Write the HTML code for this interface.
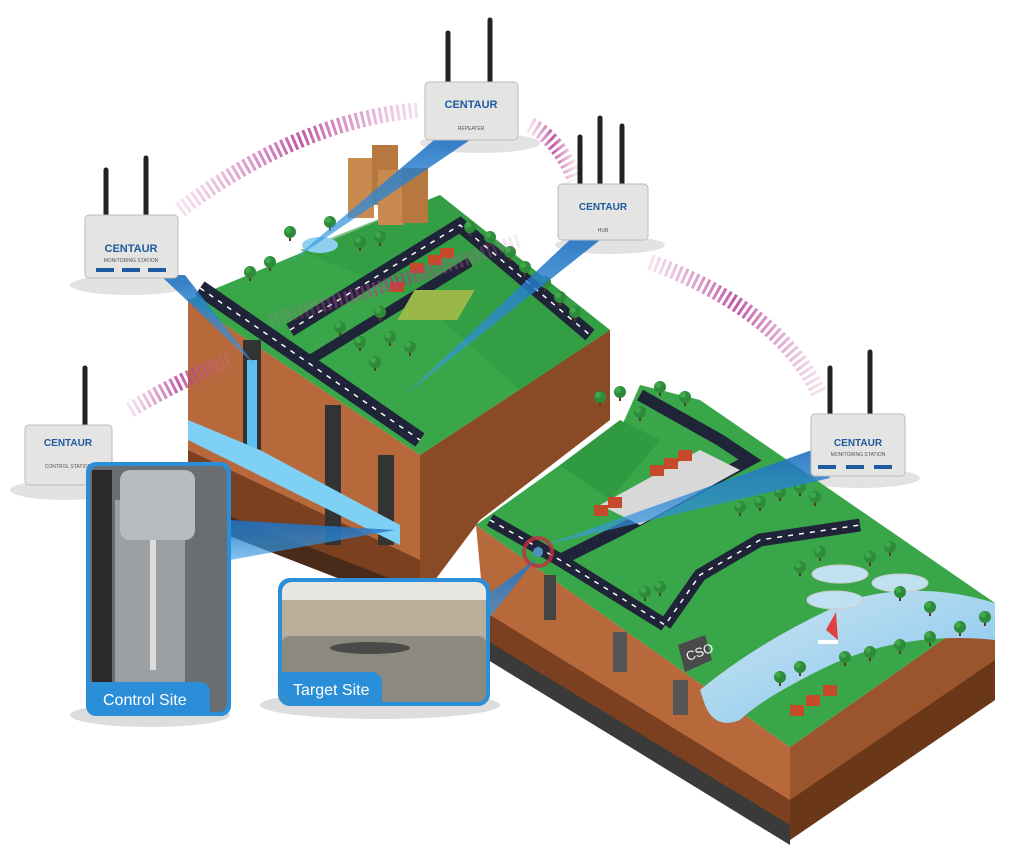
<!DOCTYPE html>
<html><head><meta charset="utf-8"><style>
html,body{margin:0;padding:0;background:#fff;width:1024px;height:860px;overflow:hidden}
svg{display:block}
text{font-family:"Liberation Sans",sans-serif}
</style></head><body>
<svg width="1024" height="860" viewBox="0 0 1024 860" xmlns="http://www.w3.org/2000/svg">
<defs>
<linearGradient id="beam" x1="0" y1="0" x2="0" y2="1"><stop offset="0" stop-color="#1e6fc0"/><stop offset="1" stop-color="#3aa0e8" stop-opacity="0.7"/></linearGradient>
<linearGradient id="pink" x1="0" y1="0" x2="1" y2="0"><stop offset="0" stop-color="#d070b0" stop-opacity="0.2"/><stop offset="0.5" stop-color="#b03090" stop-opacity="0.8"/><stop offset="1" stop-color="#d070b0" stop-opacity="0.2"/></linearGradient>
<linearGradient id="water" x1="0" y1="0" x2="1" y2="1"><stop offset="0" stop-color="#cfe6f3"/><stop offset="1" stop-color="#7fc4ec"/></linearGradient>
<g id="tree"><rect x="-1" y="0" width="2" height="6" fill="#5a3a1a"/><circle cx="0" cy="-3" r="6" fill="#2e8b3a"/><circle cx="-2" cy="-5" r="3" fill="#3fa84a"/></g>
</defs>

<!-- shadows -->
<ellipse cx="150" cy="715" rx="80" ry="12" fill="#ddd"/>
<ellipse cx="380" cy="705" rx="120" ry="14" fill="#ddd"/>
<ellipse cx="130" cy="285" rx="60" ry="10" fill="#e2e2e2"/>
<ellipse cx="65" cy="490" rx="55" ry="10" fill="#e2e2e2"/>
<ellipse cx="480" cy="143" rx="60" ry="10" fill="#e2e2e2"/>
<ellipse cx="610" cy="245" rx="55" ry="9" fill="#e2e2e2"/>
<ellipse cx="860" cy="478" rx="60" ry="10" fill="#e2e2e2"/>

<!-- LEFT BLOCK -->
<polygon points="188,300 420,455 420,600 188,510" fill="#b8693c"/>
<polygon points="188,450 420,560 420,600 188,510" fill="#7a4020"/>
<polygon points="188,500 420,590 420,610 188,520" fill="#4a2a18"/>
<polygon points="420,455 610,330 610,420 480,520 420,600" fill="#8a4a25"/>
<polygon points="188,300 440,195 610,330 420,455" fill="#3aa64a"/>
<polygon points="300,250 440,195 610,330 520,390 420,300" fill="#2f9a40" opacity="0.6"/>
<!-- roads left block -->
<polyline points="200,288 420,440" stroke="#1f2438" stroke-width="16" fill="none"/>
<polyline points="290,330 460,225 590,335" stroke="#1f2438" stroke-width="14" fill="none"/>
<polyline points="310,360 470,262" stroke="#1f2438" stroke-width="10" fill="none"/>
<polyline points="200,288 420,440" stroke="#fff" stroke-width="1.5" stroke-dasharray="5 6" fill="none"/>
<polyline points="290,330 460,225 590,335" stroke="#fff" stroke-width="1.5" stroke-dasharray="5 6" fill="none"/>
<rect x="412" y="290" width="60" height="30" fill="#9ab84a" transform="skewX(-30) translate(170,0)"/>
<!-- buildings -->
<rect x="348" y="158" width="26" height="60" fill="#c98a50"/><rect x="372" y="145" width="26" height="60" fill="#b7783f"/>
<rect x="378" y="170" width="26" height="55" fill="#c98a50"/><rect x="402" y="168" width="26" height="55" fill="#b7783f"/>
<ellipse cx="320" cy="245" rx="18" ry="8" fill="#8fd0f0"/>
<!-- wells left -->
<rect x="243" y="340" width="18" height="120" fill="#333"/><rect x="247" y="360" width="10" height="100" fill="#5cc0f0"/>
<rect x="325" y="405" width="16" height="140" fill="#333"/>
<rect x="378" y="455" width="16" height="90" fill="#333"/>
<polygon points="188,420 260,450 400,525 400,545 188,440" fill="#7fd0f5"/>
<!-- houses -->
<g fill="#c44a2a"><rect x="410" y="263" width="14" height="10"/><rect x="428" y="255" width="14" height="10"/><rect x="440" y="248" width="14" height="10"/><rect x="390" y="282" width="14" height="10"/></g>
<!-- trees left -->
<g>
<use href="#tree" x="290" y="235"/><use href="#tree" x="330" y="225"/><use href="#tree" x="360" y="245"/><use href="#tree" x="380" y="240"/>
<use href="#tree" x="470" y="230"/><use href="#tree" x="490" y="240"/><use href="#tree" x="510" y="255"/><use href="#tree" x="525" y="270"/><use href="#tree" x="545" y="285"/><use href="#tree" x="560" y="300"/><use href="#tree" x="575" y="315"/>
<use href="#tree" x="340" y="330"/><use href="#tree" x="360" y="345"/><use href="#tree" x="375" y="365"/><use href="#tree" x="390" y="340"/><use href="#tree" x="410" y="350"/><use href="#tree" x="380" y="315"/><use href="#tree" x="270" y="265"/><use href="#tree" x="250" y="275"/>
</g>

<!-- RIGHT BLOCK -->
<polygon points="476,525 790,747 790,840 488,655" fill="#b8693c"/>
<polygon points="482,610 790,800 790,840 488,655" fill="#7a4020"/>
<polygon points="486,640 790,825 790,845 488,660" fill="#3a3a3a"/>
<polygon points="790,747 995,603 995,700 790,840" fill="#9a552c"/>
<polygon points="790,800 995,660 995,700 790,840" fill="#6a3818"/>
<polygon points="476,525 560,465 620,430 640,385 700,400 995,603 790,747" fill="#3aa64a"/>
<polygon points="560,465 620,420 660,440 610,500" fill="#2f9a40"/>
<!-- roads right -->
<polyline points="490,520 560,560 665,625" stroke="#1f2438" stroke-width="13" fill="none"/>
<polyline points="665,625 700,575 760,540 860,525" stroke="#1f2438" stroke-width="13" fill="none"/>
<polyline points="640,395 720,440 750,460 620,530 560,560" stroke="#1f2438" stroke-width="12" fill="none"/>
<polyline points="490,520 560,560 665,625 700,575 760,540 860,525" stroke="#fff" stroke-width="1.5" stroke-dasharray="5 6" fill="none"/>
<polygon points="600,505 700,450 740,470 640,525" fill="#d8d8d8"/>
<g fill="#c44a2a"><rect x="594" y="505" width="14" height="11"/><rect x="608" y="497" width="14" height="11"/><rect x="650" y="465" width="14" height="11"/><rect x="664" y="458" width="14" height="11"/><rect x="678" y="450" width="14" height="11"/></g>
<!-- river -->
<path d="M700,690 Q760,640 850,600 Q920,580 995,603 L995,640 Q900,630 820,670 Q760,700 740,720 Q715,730 705,705 Z" fill="url(#water)"/>
<ellipse cx="840" cy="574" rx="28" ry="9" fill="#bfe1f0" stroke="#ccc"/><ellipse cx="900" cy="583" rx="28" ry="9" fill="#bfe1f0" stroke="#ccc"/><ellipse cx="835" cy="600" rx="28" ry="9" fill="#bfe1f0" stroke="#ccc"/>
<polygon points="826,630 836,612 838,640" fill="#e04040"/><rect x="818" y="640" width="20" height="4" fill="#fff"/>
<!-- CSO -->
<polygon points="678,645 705,635 712,660 685,672" fill="#4a4a4a"/><text x="686" y="660" font-size="13" fill="#fff" transform="rotate(-20 690 655)">CSO</text>
<!-- wells right -->
<rect x="544" y="575" width="12" height="45" fill="#444"/><rect x="613" y="632" width="14" height="40" fill="#555"/><rect x="673" y="680" width="15" height="35" fill="#555"/>
<g><use href="#tree" x="600" y="400"/><use href="#tree" x="620" y="395"/><use href="#tree" x="660" y="390"/><use href="#tree" x="685" y="400"/><use href="#tree" x="640" y="415"/>
<use href="#tree" x="740" y="510"/><use href="#tree" x="760" y="505"/><use href="#tree" x="780" y="495"/><use href="#tree" x="800" y="490"/><use href="#tree" x="815" y="500"/>
<use href="#tree" x="645" y="595"/><use href="#tree" x="660" y="590"/><use href="#tree" x="800" y="570"/><use href="#tree" x="820" y="555"/><use href="#tree" x="870" y="560"/><use href="#tree" x="890" y="550"/><use href="#tree" x="900" y="595"/><use href="#tree" x="930" y="610"/>
<use href="#tree" x="845" y="660"/><use href="#tree" x="870" y="655"/><use href="#tree" x="900" y="648"/><use href="#tree" x="930" y="640"/><use href="#tree" x="960" y="630"/><use href="#tree" x="985" y="620"/>
<use href="#tree" x="780" y="680"/><use href="#tree" x="800" y="670"/></g>
<g fill="#c44a2a"><rect x="790" y="705" width="14" height="11"/><rect x="806" y="695" width="14" height="11"/><rect x="823" y="685" width="14" height="11"/></g>
<circle cx="538" cy="552" r="14" fill="none" stroke="#c03040" stroke-width="4" opacity="0.8"/><circle cx="538" cy="552" r="5" fill="#4a90c0"/>

<!-- pink links -->
<path d="M180,210 Q300,120 420,110" stroke="url(#pink)" stroke-width="16" fill="none" stroke-dasharray="3 3"/>
<path d="M530,125 Q560,140 575,180" stroke="url(#pink)" stroke-width="16" fill="none" stroke-dasharray="3 3"/>
<path d="M650,262 Q780,310 820,395" stroke="url(#pink)" stroke-width="16" fill="none" stroke-dasharray="3 3"/>
<path d="M130,410 Q180,380 230,360" stroke="url(#pink)" stroke-width="16" fill="none" stroke-dasharray="3 3"/>
<path d="M270,320 Q380,290 520,240" stroke="url(#pink)" stroke-width="14" fill="none" stroke-dasharray="3 3" opacity="0.7"/>

<!-- blue beams -->
<polygon points="440,135 470,140 290,262" fill="url(#beam)" opacity="0.9"/>
<polygon points="575,235 600,240 405,395" fill="url(#beam)" opacity="0.9"/>
<polygon points="160,275 185,275 255,365" fill="url(#beam)" opacity="0.9"/>
<polygon points="812,450 830,478 545,545" fill="url(#beam)" opacity="0.9"/>
<polygon points="230,520 230,560 395,530" fill="url(#beam)" opacity="0.9"/>
<polygon points="480,600 480,630 535,560" fill="url(#beam)" opacity="0.9"/>

<!-- devices -->
<g id="dev">
</g>
<!-- repeater -->
<g stroke="#222" stroke-width="5" stroke-linecap="round"><line x1="448" y1="85" x2="448" y2="33"/><line x1="490" y1="85" x2="490" y2="20"/></g>
<rect x="425" y="82" width="93" height="58" rx="4" fill="#e4e4e2" stroke="#bbb"/>
<text x="471" y="108" font-size="11" font-weight="bold" fill="#1e5aa0" text-anchor="middle">CENTAUR</text>
<text x="471" y="130" font-size="5" fill="#555" text-anchor="middle">REPEATER</text>
<!-- hub -->
<g stroke="#222" stroke-width="5" stroke-linecap="round"><line x1="580" y1="188" x2="580" y2="137"/><line x1="600" y1="188" x2="600" y2="118"/><line x1="622" y1="188" x2="622" y2="126"/></g>
<rect x="558" y="184" width="90" height="56" rx="4" fill="#e4e4e2" stroke="#bbb"/>
<text x="603" y="210" font-size="10" font-weight="bold" fill="#1e5aa0" text-anchor="middle">CENTAUR</text>
<text x="603" y="232" font-size="5" fill="#555" text-anchor="middle">HUB</text>
<!-- monitoring left -->
<g stroke="#222" stroke-width="5" stroke-linecap="round"><line x1="106" y1="218" x2="106" y2="170"/><line x1="146" y1="218" x2="146" y2="158"/></g>
<rect x="85" y="215" width="93" height="63" rx="4" fill="#e4e4e2" stroke="#bbb"/>
<text x="131" y="252" font-size="11" font-weight="bold" fill="#1e5aa0" text-anchor="middle">CENTAUR</text>
<text x="131" y="262" font-size="5" fill="#555" text-anchor="middle">MONITORING STATION</text>
<rect x="96" y="268" width="18" height="4" fill="#1e5aa0"/><rect x="122" y="268" width="18" height="4" fill="#1e5aa0"/><rect x="148" y="268" width="18" height="4" fill="#1e5aa0"/>
<!-- control station -->
<g stroke="#222" stroke-width="5" stroke-linecap="round"><line x1="85" y1="428" x2="85" y2="368"/></g>
<rect x="25" y="425" width="87" height="60" rx="4" fill="#e4e4e2" stroke="#bbb"/>
<text x="68" y="446" font-size="10" font-weight="bold" fill="#1e5aa0" text-anchor="middle">CENTAUR</text>
<text x="68" y="468" font-size="5" fill="#555" text-anchor="middle">CONTROL STATION</text>
<!-- monitoring right -->
<g stroke="#222" stroke-width="5" stroke-linecap="round"><line x1="830" y1="418" x2="830" y2="368"/><line x1="870" y1="418" x2="870" y2="352"/></g>
<rect x="811" y="414" width="94" height="62" rx="4" fill="#e4e4e2" stroke="#bbb"/>
<text x="858" y="446" font-size="10" font-weight="bold" fill="#1e5aa0" text-anchor="middle">CENTAUR</text>
<text x="858" y="456" font-size="5" fill="#555" text-anchor="middle">MONITORING STATION</text>
<rect x="818" y="465" width="18" height="4" fill="#1e5aa0"/><rect x="846" y="465" width="18" height="4" fill="#1e5aa0"/><rect x="874" y="465" width="18" height="4" fill="#1e5aa0"/>

<!-- photos -->
<rect x="86" y="462" width="145" height="254" rx="10" fill="#2a8fd8"/>
<rect x="90" y="466" width="137" height="246" rx="8" fill="#6a6e70"/>
<rect x="115" y="500" width="70" height="200" fill="#9ca0a2"/>
<rect x="120" y="470" width="75" height="70" rx="10" fill="#b8bcbe"/>
<rect x="150" y="540" width="6" height="130" fill="#dcdcdc"/>
<rect x="92" y="470" width="20" height="240" fill="#2a2a2a"/>
<path d="M90,682 H200 a10 10 0 0 1 10 10 V712 H98 a8 8 0 0 1 -8 -8 Z" fill="#2a8fd8"/>
<text x="103" y="705" font-size="16" fill="#fff">Control Site</text>

<rect x="278" y="578" width="212" height="128" rx="12" fill="#2a8fd8"/>
<rect x="282" y="582" width="204" height="120" rx="10" fill="#a8a8a0"/>
<rect x="282" y="582" width="204" height="40" rx="10" fill="#e8e6e0"/>
<rect x="282" y="600" width="204" height="36" fill="#b8ae9a"/>
<rect x="282" y="636" width="204" height="66" rx="8" fill="#8c8a80"/>
<ellipse cx="370" cy="648" rx="40" ry="6" fill="#4a4a48"/>
<path d="M282,672 H372 a10 10 0 0 1 10 10 V702 H292 a10 10 0 0 1 -10 -10 Z" fill="#2a8fd8"/>
<text x="293" y="695" font-size="16" fill="#fff">Target Site</text>
</svg>
</body></html>
